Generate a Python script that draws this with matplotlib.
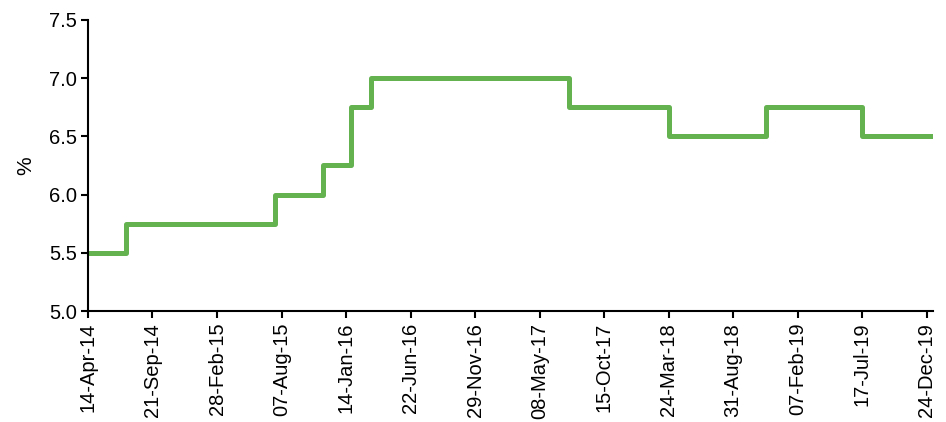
import pandas as pd
import matplotlib.pyplot as plt
import matplotlib.dates as mdates

plt.rcParams['font.family'] = ['Liberation Sans', 'DejaVu Sans']

# policy rate changes
change_dates = ['2014-04-14', '2014-07-17', '2015-07-23', '2015-11-19', '2016-01-27',
                '2016-03-17', '2017-07-19', '2018-03-24', '2018-11-20', '2019-07-16',
                '2020-01-08']
rates = [5.5, 5.75, 6.0, 6.25, 6.75, 7.0, 6.75, 6.5, 6.75, 6.5, 6.5]

tick_start = '2014-04-14'
tick_step_days = 160
n_ticks = 14

dates = pd.to_datetime(change_dates)
ticks = pd.date_range(tick_start, periods=n_ticks, freq=f'{tick_step_days}D')

fig = plt.figure(figsize=(9.46, 4.22), dpi=100)
ax = fig.add_axes([0.093, 0.263, 0.893, 0.69])

ax.step(dates, rates, where='post', color='#64b150', lw=3.6, solid_capstyle='butt')

ax.set_xlim(dates[0], dates[-1])
ax.set_ylim(5.0, 7.5)
ax.set_yticks([5.0, 5.5, 6.0, 6.5, 7.0, 7.5])
ax.yaxis.set_major_formatter(plt.FormatStrFormatter('%.1f'))
ax.set_xticks(ticks)
ax.xaxis.set_major_formatter(mdates.DateFormatter('%d-%b-%y'))
plt.setp(ax.get_xticklabels(), rotation=90)

ax.set_ylabel('%', fontsize=15, labelpad=10)
ax.tick_params(axis='both', labelsize=14.5, length=5, width=1.5, direction='out', color='black')
ax.tick_params(axis='y', pad=3)

for s in ['top', 'right']:
    ax.spines[s].set_visible(False)
for s in ['left', 'bottom']:
    ax.spines[s].set_linewidth(1.5)

fig.savefig('out.png', dpi=100)
